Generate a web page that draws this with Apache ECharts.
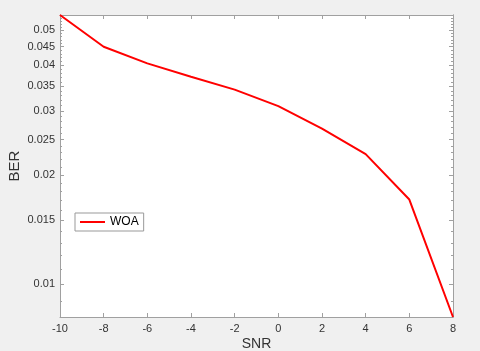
<!DOCTYPE html>
<html>
<head>
<meta charset="utf-8">
<script src="https://cdn.jsdelivr.net/npm/echarts@6/dist/echarts.min.js"></script>
<style>
html,body{margin:0;padding:0;background:#f0f0f0;}
#c{width:480px;height:351px;}
</style>
</head>
<body>
<div id="c"></div>
<script>
const snr = [-10, -8, -6, -4, -2, 0, 2, 4, 6, 8];
const ber = [0.0550, 0.0450, 0.0405, 0.0372, 0.0343, 0.0309, 0.0268, 0.0228, 0.0171, 0.00813];
const yMajor = [0.01, 0.015, 0.02, 0.025, 0.03, 0.035, 0.04, 0.045, 0.05];
const yMinor = [0.009, 0.011, 0.012, 0.013, 0.014, 0.016, 0.017, 0.018, 0.019, 0.021, 0.022, 0.023, 0.024, 0.026, 0.027, 0.028, 0.029, 0.031, 0.032, 0.033, 0.034, 0.036, 0.037, 0.038, 0.039, 0.041, 0.042, 0.043, 0.044, 0.046, 0.047, 0.048, 0.049, 0.051, 0.052, 0.053, 0.054];
const yMin = 0.00813, yMax = 0.0550;
const xMin = -10, xMax = 8, xStep = 2;

const axisColor = '#a0a0a0';
const textColor = '#333333';
const font = 'Liberation Sans, Arial, sans-serif';

function yAx(pos, labels, ticks, len, extra) {
  return Object.assign({
    type: 'log', position: pos, min: yMin, max: yMax,
    axisLine: {show: true, onZero: false, lineStyle: {color: axisColor, width: 1}},
    axisTick: {show: true, inside: true, length: len, customValues: ticks, lineStyle: {color: axisColor}},
    axisLabel: labels ? {show: true, customValues: yMajor, color: textColor, fontSize: 11, fontFamily: font, margin: 5,
      formatter: v => String(Math.round(v * 1000) / 1000)} : {show: false},
    splitLine: {show: false}, minorTick: {show: false}
  }, extra || {});
}

const chart = echarts.init(document.getElementById('c'));
chart.setOption({
  animation: false,
  backgroundColor: '#f0f0f0',
  grid: {left: 60, right: 27, top: 15, bottom: 34, show: true, backgroundColor: '#ffffff', borderWidth: 0,
    containLabel: false, outerBoundsMode: 'none'},
  legend: {
    left: 75, top: 213, orient: 'vertical',
    backgroundColor: '#ffffff', borderColor: '#999999', borderWidth: 1, borderRadius: 0,
    padding: [3, 5, 3, 5], itemWidth: 25, itemHeight: 2, itemGap: 4,
    textStyle: {fontSize: 12, color: '#000', fontFamily: font},
    data: [{name: 'WOA', icon: 'rect'}]
  },
  xAxis: [
    {type: 'value', position: 'bottom', min: xMin, max: xMax, interval: xStep,
     name: 'SNR', nameLocation: 'middle', nameGap: 20, nameMoveOverlap: false,
     nameTextStyle: {fontSize: 14, color: textColor, fontFamily: font},
     axisLine: {onZero: false, lineStyle: {color: axisColor}},
     axisTick: {inside: true, length: 4, lineStyle: {color: axisColor}},
     axisLabel: {color: textColor, fontSize: 11, fontFamily: font, margin: 6},
     splitLine: {show: false}},
    {type: 'value', position: 'top', min: xMin, max: xMax, interval: xStep,
     axisLine: {show: true, onZero: false, lineStyle: {color: axisColor}},
     axisTick: {show: true, inside: true, length: 4, lineStyle: {color: axisColor}},
     axisLabel: {show: false}, splitLine: {show: false}}
  ],
  yAxis: [
    yAx('left', true, yMajor, 4, {name: 'BER', nameLocation: 'middle', nameGap: 38, nameMoveOverlap: false,
      nameTextStyle: {fontSize: 15, color: textColor, fontFamily: font}}),
    yAx('left', false, yMinor, 2),
    yAx('right', false, yMajor, 4),
    yAx('right', false, yMinor, 2)
  ],
  series: [{
    name: 'WOA', type: 'line', data: snr.map((x, i) => [x, ber[i]]),
    xAxisIndex: 0, yAxisIndex: 0, showSymbol: false, symbol: 'none',
    lineStyle: {color: '#ff0000', width: 2}, itemStyle: {color: '#ff0000'}
  }]
});
</script>
</body>
</html>
